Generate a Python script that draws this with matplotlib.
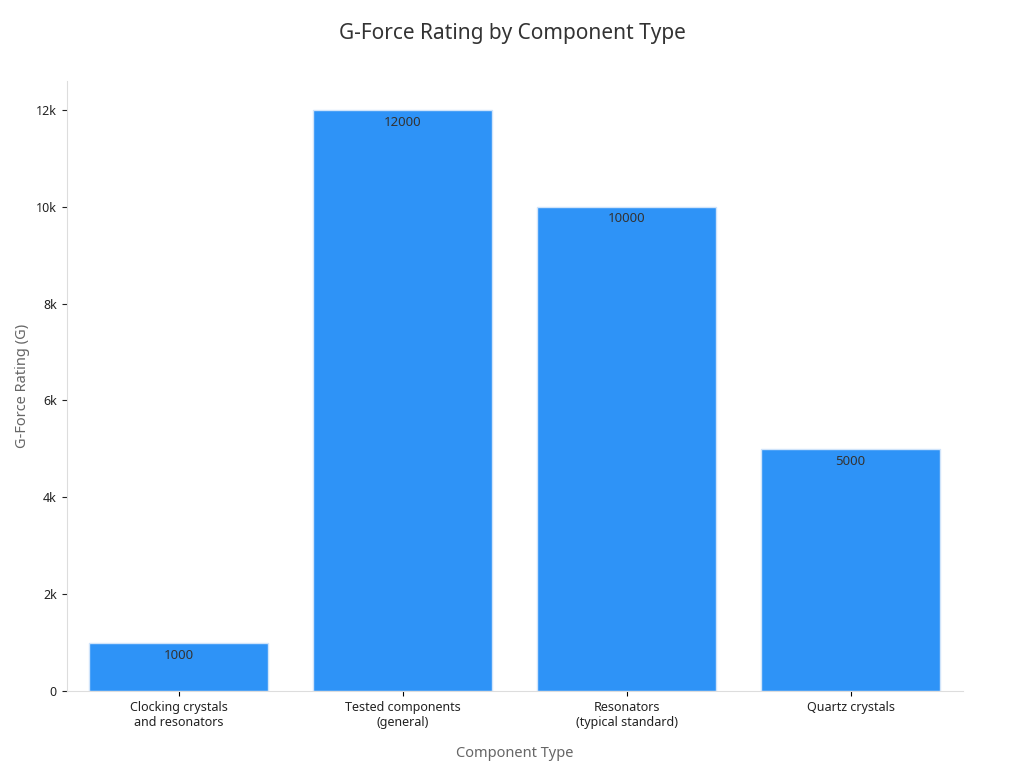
import matplotlib
matplotlib.use("Agg")
import matplotlib.pyplot as plt
from matplotlib.ticker import FuncFormatter

categories = ["Clocking crystals\nand resonators", "Tested components\n(general)", "Resonators\n(typical standard)", "Quartz crystals"]
values = [1000, 12000, 10000, 5000]

plt.rcParams['font.family'] = ['Noto Sans', 'DejaVu Sans']
fig = plt.figure(figsize=(10.24, 7.68), dpi=100)
ax = fig.add_axes([0.065, 0.1, 0.875, 0.795])
bars = ax.bar(range(len(values)), values, width=0.8, color="#2e93f7", edgecolor="#d0e4fa", linewidth=1)
for i, v in enumerate(values):
    ax.text(i, v - 120, str(v), ha="center", va="top", fontsize=9.5, color="#333333")
ax.set_xticks(range(len(values)))
ax.set_xticklabels(categories, fontsize=9, color="#222222")
ax.set_ylim(0, 12600)
ax.set_xlim(-0.5, 3.5)
ax.set_yticks(range(0, 12001, 2000))
ax.yaxis.set_major_formatter(FuncFormatter(lambda x, p: "0" if x == 0 else f"{int(x/1000)}k"))
ax.tick_params(axis='y', labelsize=9, colors="#222222")
for t in ax.get_yticklines() + ax.get_xticklines():
    t.set_color("#999999")
for s in ["top", "right"]:
    ax.spines[s].set_visible(False)
for s in ["left", "bottom"]:
    ax.spines[s].set_color("#dddddd")
ax.set_xlabel("Component Type", fontsize=10.5, color="#666666", labelpad=12)
ax.set_ylabel("G-Force Rating (G)", fontsize=10.5, color="#666666")
fig.suptitle("G-Force Rating by Component Type", fontsize=15, color="#333333", y=0.97)
fig.savefig("out.png")
